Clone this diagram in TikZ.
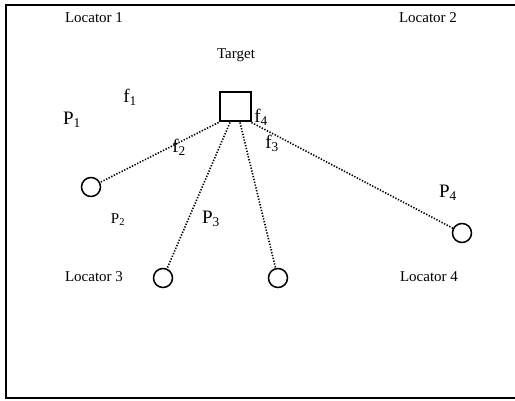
\documentclass[tikz,border=0pt]{standalone}
\usepackage{fontspec}
\setmainfont{Liberation Serif}
\tikzset{
  lbl/.style={inner sep=0pt, font=\fontsize{15}{17}\selectfont},
  big/.style={inner sep=0pt, font=\fontsize{19}{21}\selectfont},
  loc/.style={draw, circle, line width=1.5pt, minimum size=19pt, inner sep=0pt},
  tgt/.style={draw, rectangle, line width=2pt, minimum width=31pt, minimum height=29pt, inner sep=0pt},
  link/.style={line width=1.6pt, dash pattern=on 1.3pt off 1.6pt}
}
\begin{document}
\begin{tikzpicture}[x=1pt,y=-1pt]
\useasboundingbox (0,0) rectangle (515,401);
\draw[line width=2pt] (515,5) -- (6,5) -- (6,398) -- (515,398);
% labels
\node[lbl] (l1) at (94,18) {Locator 1};
\node[lbl] (l2) at (428,18) {Locator 2};
\node[lbl] (l3) at (94,277) {Locator 3};
\node[lbl] (l4) at (429,277) {Locator 4};
\node[lbl] (tl) at (236,55) {Target};
% target
\node[tgt] (T) at (235,107) {};
% locators
\node[loc] (c1) at (91,187) {};
\node[loc] (c3) at (163,278) {};
\node[loc] (cm) at (278,278) {};
\node[loc] (c4) at (462,233) {};
% connectors
\draw[link] (T.south west) -- (c1);
\draw[link] ([xshift=-5pt]T.south) -- (c3);
\draw[link] ([xshift=5pt]T.south) -- (cm);
\draw[link] (T.south east) -- (c4);
% text labels
\node[big] (f1) at (130,97) {f\textsubscript{1}};
\node[big] (p1) at (72,120) {P\textsubscript{1}};
\node[big] (f2) at (179,147) {f\textsubscript{2}};
\node[big] (f4) at (261,117) {f\textsubscript{4}};
\node[big] (f3) at (272,143) {f\textsubscript{3}};
\node[lbl] (p2) at (118,220) {P\textsubscript{2}};
\node[big] (p3) at (211,219) {P\textsubscript{3}};
\node[big] (p4) at (448,193) {P\textsubscript{4}};
\end{tikzpicture}
\end{document}
